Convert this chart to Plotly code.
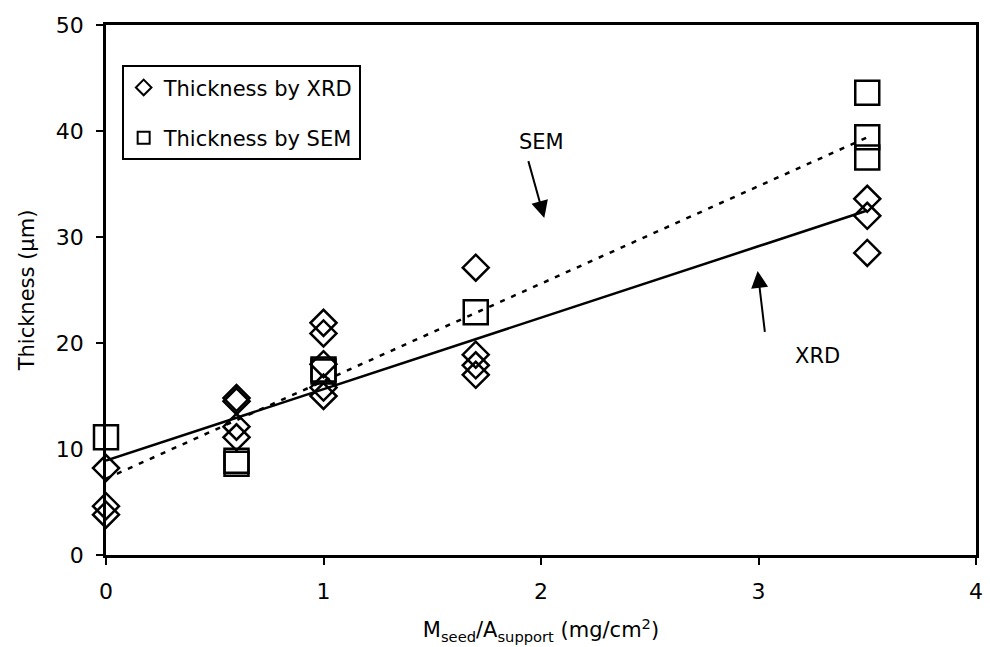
import plotly.graph_objects as go

# ---- data ----
xrd_x = [0, 0, 0, 0.6, 0.6, 0.6, 0.6, 1, 1, 1, 1, 1, 1.7, 1.7, 1.7, 1.7, 3.5, 3.5, 3.5]
xrd_y = [8.2, 4.6, 3.8, 14.8, 14.5, 12.1, 11.1, 21.9, 20.9, 18.0, 15.8, 15.0, 27.1, 18.9, 17.9, 17.0, 33.6, 32.0, 28.5]
sem_x = [0, 0.6, 0.6, 1, 1, 1.7, 3.5, 3.5, 3.5]
sem_y = [11.1, 8.9, 8.6, 17.5, 17.3, 22.9, 43.6, 39.4, 37.5]
fit_x = [0, 3.5]
xrd_fit_y = [8.9, 32.5]
sem_fit_y = [7.2, 39.4]
x_ticks = [0, 1, 2, 3, 4]
y_ticks = [0, 10, 20, 30, 40, 50]

FONT = "Verdana, DejaVu Sans, sans-serif"

fig = go.Figure()
fig.add_trace(go.Scatter(x=fit_x, y=xrd_fit_y, mode="lines", showlegend=False, cliponaxis=False,
                         line=dict(color="black", width=2.5)))
fig.add_trace(go.Scatter(x=fit_x, y=sem_fit_y, mode="lines", showlegend=False, cliponaxis=False,
                         line=dict(color="black", width=2.5, dash="5px,7px")))
fig.add_trace(go.Scatter(x=xrd_x, y=xrd_y, mode="markers", name="Thickness by XRD",
                         legendgroup="a", cliponaxis=False,
                         marker=dict(symbol="diamond-open", size=20, color="black",
                                     line=dict(color="black", width=2.5))))
fig.add_trace(go.Scatter(x=sem_x, y=sem_y, mode="markers", name="Thickness by SEM",
                         legendgroup="b", cliponaxis=False,
                         marker=dict(symbol="square-open", size=24, color="black",
                                     line=dict(color="black", width=2.5))))

# arrows and labels
fig.add_annotation(x=2.015, y=31.8, ax=1.94, ay=37.3, xref="x", yref="y", axref="x", ayref="y",
                   text="", showarrow=True, arrowhead=2, arrowsize=1.7, arrowwidth=2, arrowcolor="black")
fig.add_annotation(x=2.0, y=39.0, xref="x", yref="y", text="SEM", showarrow=False,
                   font=dict(size=21, color="black", family=FONT))
fig.add_annotation(x=2.996, y=26.8, ax=3.03, ay=20.9, xref="x", yref="y", axref="x", ayref="y",
                   text="", showarrow=True, arrowhead=2, arrowsize=1.7, arrowwidth=2, arrowcolor="black")
fig.add_annotation(x=3.27, y=18.8, xref="x", yref="y", text="XRD", showarrow=False,
                   font=dict(size=21, color="black", family=FONT))

axis_common = dict(showline=True, linecolor="black", linewidth=2.5, mirror=True,
                   ticks="outside", ticklen=7, tickwidth=1.5, tickcolor="black",
                   showgrid=False, zeroline=False, ticklabelstandoff=8,
                   tickfont=dict(size=22, color="black", family=FONT))

fig.update_xaxes(range=[0, 4], tickvals=x_ticks,
                 title=dict(text="M<sub>seed</sub>/A<sub>support</sub> (mg/cm<sup>2</sup>)",
                            font=dict(size=21, color="black", family=FONT), standoff=20),
                 **axis_common)
fig.update_yaxes(range=[0, 50], tickvals=y_ticks,
                 title=dict(text="Thickness (μm)",
                            font=dict(size=21, color="black", family=FONT), standoff=16),
                 **axis_common)

fig.update_layout(
    width=990, height=647,
    margin=dict(l=106, r=7, t=25, b=92),
    paper_bgcolor="white", plot_bgcolor="white",
    font=dict(family=FONT, color="black", size=20),
    legend=dict(x=0.018, y=0.924, xanchor="left", yanchor="top",
                bordercolor="black", borderwidth=2, bgcolor="white",
                font=dict(size=21, color="black", family=FONT),
                itemsizing="constant", tracegroupgap=20),
)

fig.write_html("out.html")
